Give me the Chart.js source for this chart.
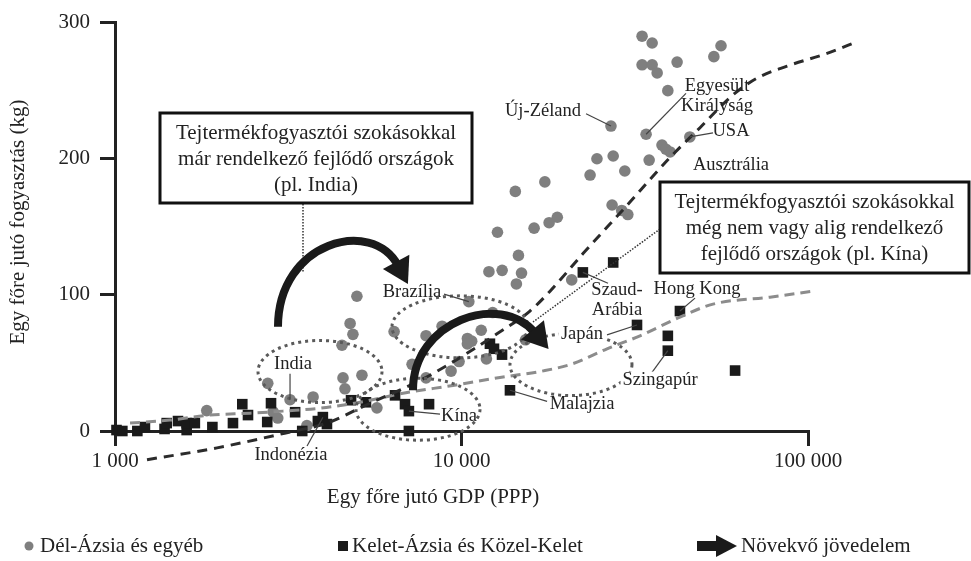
<!DOCTYPE html>
<html>
<head>
<meta charset="utf-8">
<script src="https://cdn.jsdelivr.net/npm/chart.js@4.4.1/dist/chart.umd.min.js"></script>
<style>
  html, body { margin: 0; padding: 0; background: #fff; }
  #wrap { width: 971px; height: 561px; }
</style>
</head>
<body>
<div id="wrap"><canvas id="dairyChart" width="971" height="561"></canvas></div>
<script>
// Dél-Ázsia és egyéb: GDP/fő (PPP) és tejtermék-fogyasztás (kg/fő)
const southGdp = [33200, 35500, 56100, 53500, 33200, 35500, 36700, 41900, 39400, 27000,
  34100, 45600, 37900, 38900, 40000, 24600, 27400, 34800, 23500, 29600,
  27200, 29000, 30200, 17400, 14300, 18900, 17900, 16200, 12700, 14600,
  12000, 13100, 14900, 14400, 20800, 10500, 12300, 4990, 4770, 4860,
  6390, 7900, 8790, 4520, 11400, 10400, 10700, 10400, 15300, 11800,
  9840, 9330, 7200, 7900, 4550, 5160, 4610, 5700, 3730, 3580,
  2760, 3200, 1840, 2860, 2950];
const southKg = [290, 285, 283, 275, 269, 269, 263, 271, 250, 224,
  218, 216, 210, 207, 205, 200, 202, 199, 188, 191,
  166, 162, 159, 183, 176, 157, 153, 149, 146, 129,
  117, 118, 116, 108, 111, 95, 87, 99, 79, 71,
  73, 70, 77, 63, 74, 68, 66, 64, 67, 53,
  51, 44, 49, 39, 39, 41, 31, 17, 25, 4,
  35, 23, 15, 14, 9.5];

// Kelet-Ázsia és Közel-Kelet
const eastGdp = [1010, 1050, 1160, 1220, 1390, 1410, 1520, 1610, 1610, 1700,
  1910, 2190, 2330, 2420, 2750, 2820, 3310, 3470, 3850, 3980,
  4090, 4800, 5300, 6430, 6870, 7050, 8060, 7050, 12080, 12410,
  13090, 13800, 22400, 27400, 32100, 42700, 39400, 39400, 61600];
const eastKg = [0.7, 0, 0, 2.9, 1.5, 5.8, 7.3, 0.7, 5.8, 5.8,
  2.9, 5.8, 19.7, 11.7, 6.6, 20.4, 13.8, 0, 7.3, 10.2,
  5.1, 22.6, 21.1, 26.2, 19.7, 14.6, 19.7, 0, 64.1, 60.4,
  56.1, 29.9, 116.5, 123.8, 77.9, 88.1, 69.9, 59.0, 44.4];

// trendvonalak
const highTrendGdp = [1237, 1970, 3200, 4090, 5440, 7590, 9900, 12660, 15760, 18010,
  22420, 30640, 40000, 48790, 60740, 71260, 87000, 113500, 139400];
const highTrendKg = [-21.1, -12.4, -0.7, 5.8, 20.4, 37.1, 53.9, 71.4, 88.1, 102.7,
  130.3, 168.2, 201, 222.8, 246.9, 259.2, 268, 277.4, 286.2];
const lowTrendGdp = [1105, 1441, 1880, 2453, 3053, 3905, 5094, 6780, 9452, 12910,
  17420, 20980, 26300, 32750, 42720, 53190, 77700, 103400];
const lowTrendKg = [5.8, 8.0, 11.7, 13.1, 14.6, 16.7, 21.1, 27.7, 33.5, 39.3,
  44.4, 49.5, 60.4, 69.9, 83.7, 93.2, 98.3, 102.7];

const xTicks = [1000, 10000, 100000];
const xTickLabels = ['1 000', '10 000', '100 000'];
const yTicks = [0, 100, 200, 300];

// országfeliratok: felirat helye, vezetővonal kezdete és vége
const countryLabels = [
  { text: 'Új-Zéland', at: [17190, 235], from: [22880, 233], to: [27000, 224] },
  { text: 'Egyesült\nKirályság', at: [54640, 246], from: [44450, 248], to: [34100, 218] },
  { text: 'USA', at: [59950, 220], from: [53190, 219], to: [45600, 216] },
  { text: 'Ausztrália', at: [59950, 195] },
  { text: 'Brazília', at: [7196, 102], from: [8903, 100.5], to: [10500, 95] },
  { text: 'India', at: [3264, 49], from: [3200, 42], to: [3200, 23] },
  { text: 'Indonézia', at: [3219, -17.5], from: [3583, -11], to: [3980, 10] },
  { text: 'Kína', at: [9835, 11], from: [8670, 12.4], to: [7050, 14.6] },
  { text: 'Malajzia', at: [22270, 19.7], from: [17660, 21.8], to: [13800, 29.9] },
  { text: 'Szaud-\nArábia', at: [28110, 96], from: [26470, 108.5], to: [22400, 116.5] },
  { text: 'Hong Kong', at: [47830, 104], from: [47200, 97.6], to: [42700, 88.1] },
  { text: 'Japán', at: [22270, 71.4], from: [26300, 70.6], to: [32100, 77.9], bg: true },
  { text: 'Szingapúr', at: [37410, 37], from: [35460, 43], to: [39400, 59], bg: true }
];

// pontozott ellipszisek (középpont adatban, sugár pixelben)
const regions = [
  { at: [3905, 43.7], rx: 62, ry: 31 },
  { at: [7490, 16], rx: 62, ry: 31 },
  { at: [9900, 76.5], rx: 68, ry: 31 },
  { at: [20700, 48.8], rx: 61, ry: 31 }
];

// növekvő jövedelem nyilak (köbös Bézier-görbe pontjai)
const incomeArrows = [
  [[2954, 76.5], [2954, 139.1], [5516, 157.3], [6558, 121.6]],
  [[7244, 29.9], [7244, 80.8], [12910, 102.7], [16300, 72.1]]
];

const serif = '"Liberation Serif", "Times New Roman", serif';
const ink = '#222';

const annotations = {
  id: 'annotations',
  afterDatasetsDraw(chart) {
    const { ctx } = chart;
    const sx = chart.scales.x, sy = chart.scales.y;
    const p = (pt) => [sx.getPixelForValue(pt[0]), sy.getPixelForValue(pt[1])];
    ctx.save();

    // ellipszisek
    ctx.strokeStyle = '#5a5a5a';
    ctx.lineWidth = 3;
    ctx.setLineDash([3, 4]);
    regions.forEach(r => {
      const [cx, cy] = p(r.at);
      ctx.beginPath();
      ctx.ellipse(cx, cy, r.rx, r.ry, 0, 0, Math.PI * 2);
      ctx.stroke();
    });
    ctx.setLineDash([]);

    // feliratok
    ctx.font = '18.5px ' + serif;
    ctx.textAlign = 'center';
    ctx.textBaseline = 'middle';
    countryLabels.forEach(l => {
      if (l.from) {
        const a = p(l.from), b = p(l.to);
        ctx.strokeStyle = '#444';
        ctx.lineWidth = 1.2;
        ctx.beginPath();
        ctx.moveTo(a[0], a[1]);
        ctx.lineTo(b[0], b[1]);
        ctx.stroke();
      }
      const [tx, ty] = p(l.at);
      const lines = l.text.split('\n');
      const top = ty - (lines.length - 1) * 10;
      lines.forEach((s, i) => {
        if (l.bg) {
          const w = ctx.measureText(s).width;
          ctx.fillStyle = '#fff';
          ctx.fillRect(tx - w / 2 - 2, top + i * 20 - 9, w + 4, 18);
        }
        ctx.fillStyle = ink;
        ctx.fillText(s, tx, top + i * 20);
      });
    });

    // dobozok vezetővonalai
    ctx.strokeStyle = '#333';
    ctx.lineWidth = 1.5;
    ctx.setLineDash([1.5, 1.5]);
    ctx.beginPath();
    ctx.moveTo(303, 204); ctx.lineTo(303, 272);
    ctx.moveTo(660, 229); ctx.lineTo(533, 322);
    ctx.stroke();
    ctx.setLineDash([]);

    // nyilak
    ctx.strokeStyle = '#1a1a1a';
    ctx.fillStyle = '#1a1a1a';
    ctx.lineWidth = 8;
    incomeArrows.forEach(arr => {
      const [p0, p1, p2, p3] = arr.map(p);
      ctx.beginPath();
      ctx.moveTo(p0[0], p0[1]);
      ctx.bezierCurveTo(p1[0], p1[1], p2[0], p2[1], p3[0], p3[1]);
      ctx.stroke();
      const dx = p3[0] - p2[0], dy = p3[1] - p2[1];
      const len = Math.hypot(dx, dy);
      const ux = dx / len, uy = dy / len;
      ctx.beginPath();
      ctx.moveTo(p3[0] + ux * 21, p3[1] + uy * 21);
      ctx.lineTo(p3[0] - uy * 15 - ux * 4, p3[1] + ux * 15 - uy * 4);
      ctx.lineTo(p3[0] + uy * 15 - ux * 4, p3[1] - ux * 15 - uy * 4);
      ctx.closePath();
      ctx.fill();
    });

    // szövegdobozok
    const boxes = [
      { x: 160, y: 113, w: 312, h: 90, lines: ['Tejtermékfogyasztói szokásokkal', 'már rendelkező fejlődő országok', '(pl. India)'] },
      { x: 660, y: 182, w: 309, h: 91, lines: ['Tejtermékfogyasztói szokásokkal', 'még nem vagy alig rendelkező', 'fejlődő országok (pl. Kína)'] }
    ];
    boxes.forEach(b => {
      ctx.fillStyle = '#fff';
      ctx.fillRect(b.x, b.y, b.w, b.h);
      ctx.strokeStyle = '#111';
      ctx.lineWidth = 3;
      ctx.strokeRect(b.x, b.y, b.w, b.h);
      ctx.fillStyle = ink;
      ctx.font = '21px ' + serif;
      b.lines.forEach((s, i) => ctx.fillText(s, b.x + b.w / 2, b.y + 20 + i * 26));
    });
    ctx.restore();
  },
  afterDraw(chart) {
    const { ctx } = chart;
    ctx.save();
    ctx.fillStyle = ink;
    ctx.font = '21px ' + serif;
    ctx.textAlign = 'center';
    ctx.textBaseline = 'middle';
    ctx.fillText('Egy főre jutó GDP (PPP)', 433, 497);
    ctx.translate(18, 222);
    ctx.rotate(-Math.PI / 2);
    ctx.fillText('Egy főre jutó fogyasztás (kg)', 0, 0);
    ctx.restore();

    // jelmagyarázat
    ctx.save();
    ctx.font = '21px ' + serif;
    ctx.textAlign = 'left';
    ctx.textBaseline = 'middle';
    const ly = 546;
    ctx.fillStyle = '#7f7f7f';
    ctx.beginPath(); ctx.arc(29, ly, 4.5, 0, Math.PI * 2); ctx.fill();
    ctx.fillStyle = ink;
    ctx.fillText('Dél-Ázsia és egyéb', 40, ly);
    ctx.fillStyle = '#1a1a1a';
    ctx.fillRect(338, ly - 5, 10, 10);
    ctx.fillStyle = ink;
    ctx.fillText('Kelet-Ázsia és Közel-Kelet', 352, ly);
    ctx.fillStyle = '#1a1a1a';
    ctx.fillRect(697, ly - 5, 22, 10);
    ctx.beginPath();
    ctx.moveTo(716, ly - 11); ctx.lineTo(737, ly); ctx.lineTo(716, ly + 11);
    ctx.closePath(); ctx.fill();
    ctx.fillStyle = ink;
    ctx.fillText('Növekvő jövedelem', 741, ly);
    ctx.restore();
  }
};

const toPoints = (xs, ys) => xs.map((v, i) => ({ x: v, y: ys[i] }));

new Chart(document.getElementById('dairyChart'), {
  type: 'scatter',
  data: {
    datasets: [
      {
        label: 'trend1',
        data: toPoints(highTrendGdp, highTrendKg),
        showLine: true,
        borderColor: '#2b2b2b',
        borderWidth: 3,
        borderDash: [10, 7],
        pointRadius: 0,
        cubicInterpolationMode: 'monotone',
        clip: false
      },
      {
        label: 'trend2',
        data: toPoints(lowTrendGdp, lowTrendKg),
        showLine: true,
        borderColor: '#8c8c8c',
        borderWidth: 3,
        borderDash: [10, 6],
        pointRadius: 0,
        cubicInterpolationMode: 'monotone',
        clip: false
      },
      {
        label: 'Kelet-Ázsia és Közel-Kelet',
        data: toPoints(eastGdp, eastKg),
        pointStyle: 'rect',
        pointRadius: 7.5,
        backgroundColor: '#1a1a1a',
        borderWidth: 0,
        clip: false
      },
      {
        label: 'Dél-Ázsia és egyéb',
        data: toPoints(southGdp, southKg),
        pointStyle: 'circle',
        pointRadius: 5.8,
        backgroundColor: '#7f7f7f',
        borderWidth: 0,
        clip: false
      }
    ]
  },
  options: {
    responsive: false,
    devicePixelRatio: 1,
    animation: false,
    layout: { padding: { top: 19, right: 163, left: 0, bottom: 0 } },
    plugins: { legend: { display: false }, tooltip: { enabled: false } },
    scales: {
      x: {
        type: 'logarithmic',
        // határok itt, hogy a trendvonal a tengelyen túl is kirajzolódjon
        afterDataLimits: (s) => { s.min = xTicks[0]; s.max = xTicks[xTicks.length - 1]; },
        afterBuildTicks: (s) => { s.ticks = xTicks.map(v => ({ value: v })); },
        afterFit: (s) => { s.height = 130; },
        ticks: {
          autoSkip: false,
          maxRotation: 0,
          padding: 3,
          color: ink,
          font: { family: serif, size: 21 },
          callback: (v) => xTickLabels[xTicks.indexOf(v)]
        },
        grid: { drawOnChartArea: false, drawTicks: true, tickLength: 15, lineWidth: 3, color: ink },
        border: { display: true, width: 3, color: ink }
      },
      y: {
        min: 0,
        max: 300,
        afterBuildTicks: (s) => { s.ticks = yTicks.map(v => ({ value: v })); },
        afterFit: (s) => { s.width = 115; },
        ticks: {
          padding: 10,
          color: ink,
          font: { family: serif, size: 21 }
        },
        grid: { drawOnChartArea: false, drawTicks: true, tickLength: 15, lineWidth: 3, color: ink },
        border: { display: true, width: 3, color: ink }
      }
    }
  },
  plugins: [annotations]
});
</script>
</body>
</html>
